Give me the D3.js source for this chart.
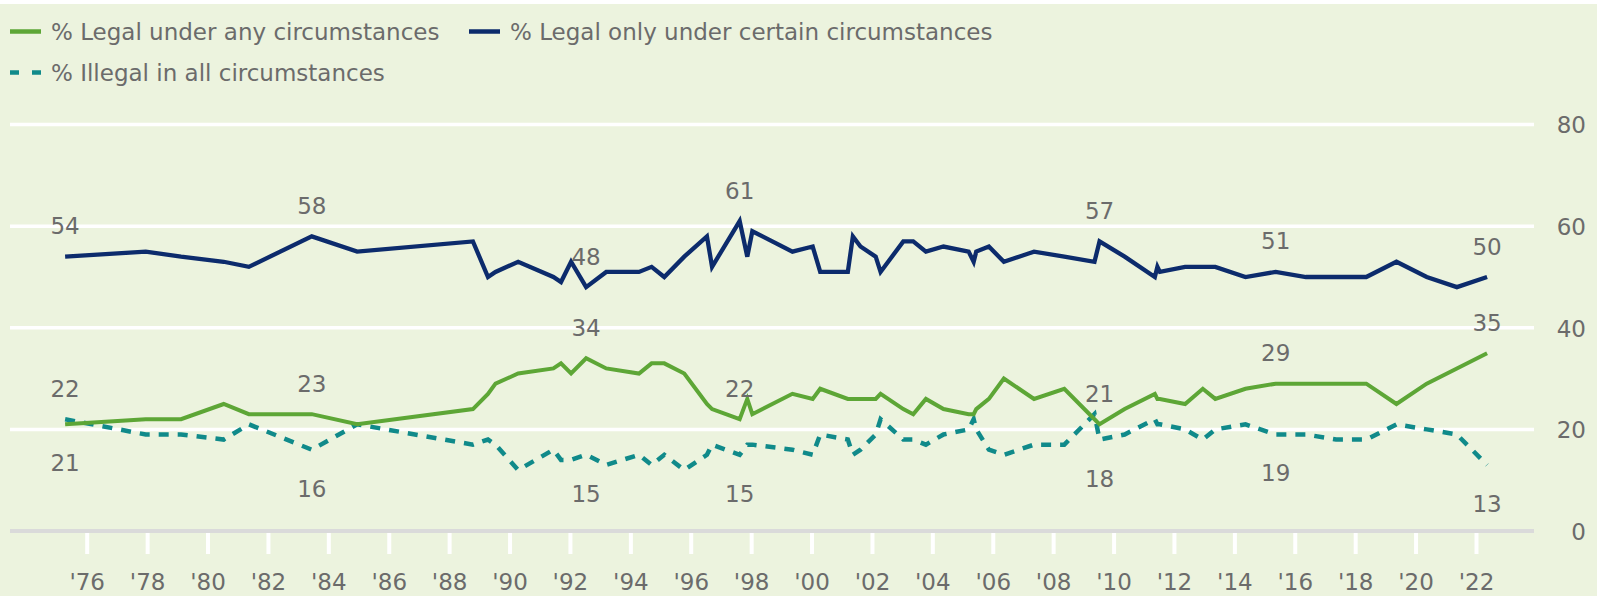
<!DOCTYPE html>
<html>
<head>
<meta charset="utf-8">
<script src="https://cdn.jsdelivr.net/npm/d3@7/dist/d3.min.js"></script>
<style>
  html, body { margin: 0; padding: 0; background: #ffffff; }
  svg { display: block; }
  text { font-family: "DejaVu Sans", Verdana, sans-serif; }
</style>
</head>
<body>
<svg id="chart" width="1597" height="596"></svg>
<script>
// Survey dates (year-month) and the share answering each option, in percent
const dates = [
  "1975-04","1977-12","1979-02","1980-07","1981-05","1983-06","1984-12","1988-10",
  "1989-04","1989-07","1990-04","1991-06","1991-09","1992-01","1992-07","1993-03",
  "1994-04","1994-09","1995-02","1995-10","1996-07","1996-09","1997-08","1997-11",
  "1998-01","1999-05","2000-01","2000-04","2001-03","2001-05","2001-08","2002-02",
  "2002-04","2003-01","2003-05","2003-10","2004-05","2005-03","2005-05","2005-06",
  "2005-11","2006-05","2007-05","2008-05","2009-05","2009-07","2010-05","2011-05",
  "2011-06","2011-07","2012-05","2012-12","2013-05","2014-05","2015-05","2016-05",
  "2017-05","2018-05","2019-05","2020-05","2021-05","2022-05"
];

const legalAny = [
  21, 22, 22, 25, 23, 23, 21, 24,
  27, 29, 31, 32, 33, 31, 34, 32,
  31, 33, 33, 31, 25, 24, 22, 26,
  23, 27, 26, 28, 26, 26, 26, 26,
  27, 24, 23, 26, 24, 23, 23, 24,
  26, 30, 26, 28, 22, 21, 24, 27,
  26, 26, 25, 28, 26, 28, 29, 29,
  29, 29, 25, 29, 32, 35
];

const legalCertain = [
  54, 55, 54, 53, 52, 58, 55, 57,
  50, 51, 53, 50, 49, 53, 48, 51,
  51, 52, 50, 54, 58, 52, 61, 54,
  59, 55, 56, 51, 51, 58, 56, 54,
  51, 57, 57, 55, 56, 55, 53, 55,
  56, 53, 55, 54, 53, 57, 54, 50,
  52, 51, 52, 52, 52, 50, 51, 50,
  50, 50, 53, 50, 48, 50
];

const illegalAll = [
  22, 19, 19, 18, 21, 16, 21, 17,
  18, 17, 12, 16, 14, 14, 15, 13,
  15, 13, 15, 12, 15, 17, 15, 17,
  17, 16, 15, 19, 18, 15, 16, 19,
  22, 18, 18, 17, 19, 20, 22, 20,
  16, 15, 17, 17, 23, 18, 19, 22,
  21, 21, 20, 18, 20, 21, 19, 19,
  18, 18, 21, 20, 19, 13
];

// Survey dates whose values are written on the chart, and where each label sits
const labelDates = ["1975-04","1983-06","1992-07","1997-08","2009-07","2015-05","2022-05"];
const certainLabelPos = ["above","above","above","above","above","above","above"];
const anyLabelPos     = ["below","above","above","above","above","above","above"];
const illegalLabelPos = ["above","below","below","below","below","below","below"];

// Axis ticks
const yTicks = [0, 20, 40, 60, 80];
const xTickYears = [1976,1978,1980,1982,1984,1986,1988,1990,1992,1994,1996,1998,
                    2000,2002,2004,2006,2008,2010,2012,2014,2016,2018,2020,2022];

// Legend entries
const legendNames = [
  "% Legal under any circumstances",
  "% Legal only under certain circumstances",
  "% Illegal in all circumstances"
];

const COLORS = { any: "#5da636", certain: "#0c2b6c", illegal: "#108a8a" };
const TEXT = "#6b6b6b";
const BG = "#ecf3de";

const W = 1597, H = 596;
const svg = d3.select("#chart");

svg.append("rect").attr("x", 0).attr("y", 0).attr("width", W).attr("height", H).attr("fill", "#ffffff");
svg.append("rect").attr("x", 0).attr("y", 4).attr("width", W).attr("height", H - 4).attr("fill", BG);

const parseMonth = d3.timeParse("%Y-%m-%d");
const toDate = s => parseMonth(s + "-15");

const x = d3.scaleTime()
  .domain([new Date(1976, 0, 1), new Date(2022, 0, 1)])
  .range([86.7, 1476]);
const y = d3.scaleLinear().domain([0, 80]).range([531, 124.6]);

const gridLeft = 10, gridRight = 1534;

// Horizontal gridlines
svg.append("g").selectAll("line")
  .data(yTicks.filter(v => v > 0))
  .join("line")
  .attr("x1", gridLeft).attr("x2", gridRight)
  .attr("y1", d => y(d)).attr("y2", d => y(d))
  .attr("stroke", "#ffffff").attr("stroke-width", 3.5);

// Zero baseline
svg.append("line")
  .attr("x1", gridLeft).attr("x2", gridRight)
  .attr("y1", y(0)).attr("y2", y(0))
  .attr("stroke", "#dadada").attr("stroke-width", 4);

// Bottom axis: white ticks below the baseline, year labels underneath
const xAxis = d3.axisBottom(x)
  .tickValues(xTickYears.map(yr => new Date(yr, 0, 1)))
  .tickFormat(d3.timeFormat("'%y"))
  .tickSize(21);
const gx = svg.append("g").attr("transform", `translate(0,${y(0) + 2})`).call(xAxis);
gx.select(".domain").remove();
gx.selectAll(".tick line").attr("stroke", "#ffffff").attr("stroke-width", 4);
gx.selectAll(".tick text")
  .attr("y", 57).attr("dy", 0)
  .attr("fill", TEXT)
  .style("font-size", "23px")
  .style("font-family", "'DejaVu Sans', Verdana, sans-serif");

// Right-hand value axis
const yAxis = d3.axisRight(y).tickValues(yTicks).tickSize(0);
const gy = svg.append("g").attr("transform", "translate(1586,0)").call(yAxis);
gy.select(".domain").remove();
gy.selectAll(".tick text")
  .attr("x", 0).attr("dy", "0.36em")
  .attr("text-anchor", "end")
  .attr("fill", TEXT)
  .style("font-size", "23px")
  .style("font-family", "'DejaVu Sans', Verdana, sans-serif");

// Series lines
const series = [
  { key: "illegal", values: illegalAll, color: COLORS.illegal, width: 4.5, dash: "10,9" },
  { key: "any", values: legalAny, color: COLORS.any, width: 4, dash: null },
  { key: "certain", values: legalCertain, color: COLORS.certain, width: 4.3, dash: null }
];

const line = d3.line()
  .x(d => x(d.date))
  .y(d => y(d.value));

series.forEach(s => {
  const pts = dates.map((d, i) => ({ date: toDate(d), value: s.values[i] }));
  svg.append("path")
    .datum(pts)
    .attr("d", line)
    .attr("fill", "none")
    .attr("stroke", s.color)
    .attr("stroke-width", s.width)
    .attr("stroke-linejoin", "miter")
    .attr("stroke-miterlimit", 4)
    .attr("stroke-dasharray", s.dash);
});

// Value labels at selected surveys
function addLabels(values, positions) {
  labelDates.forEach((ld, i) => {
    const idx = dates.indexOf(ld);
    const v = values[idx];
    const px = x(toDate(ld));
    const py = y(v);
    svg.append("text")
      .attr("x", px)
      .attr("y", positions[i] === "above" ? py - 22.5 : py + 47)
      .attr("text-anchor", "middle")
      .attr("fill", TEXT)
      .style("font-size", "23px")
      .text(v);
  });
}
addLabels(legalCertain, certainLabelPos);
addLabels(legalAny, anyLabelPos);
addLabels(illegalAll, illegalLabelPos);

// Legend
const legendItems = [
  { name: legendNames[0], color: COLORS.any, dash: null, lx: 10, ly: 31.5 },
  { name: legendNames[1], color: COLORS.certain, dash: null, lx: 469, ly: 31.5 },
  { name: legendNames[2], color: COLORS.illegal, dash: "9,13", lx: 10, ly: 72.5 }
];
const lg = svg.append("g");
legendItems.forEach(item => {
  lg.append("line")
    .attr("x1", item.lx).attr("x2", item.lx + 31)
    .attr("y1", item.ly).attr("y2", item.ly)
    .attr("stroke", item.color).attr("stroke-width", 4.5)
    .attr("stroke-dasharray", item.dash);
  lg.append("text")
    .attr("x", item.lx + 41)
    .attr("y", item.ly + 8)
    .attr("fill", TEXT)
    .style("font-size", "23px")
    .text(item.name);
});
</script>
</body>
</html>
